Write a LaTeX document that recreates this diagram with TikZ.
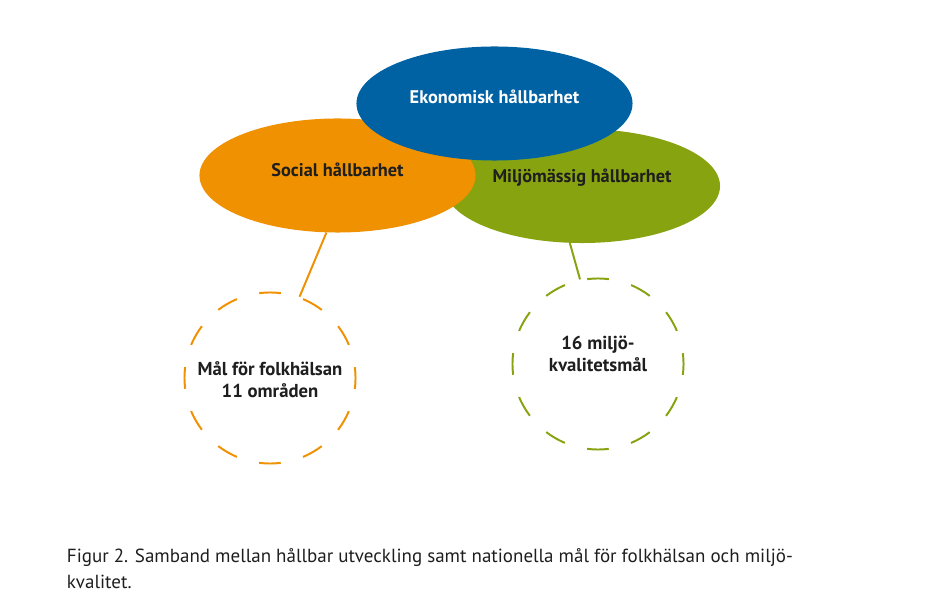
\documentclass[tikz,border=0pt]{standalone}
\usepackage{fontspec}
\setmainfont{PT Sans}
\usepackage{xcolor}
\usetikzlibrary{shapes.geometric}
\definecolor{socorange}{RGB}{239,145,0}
\definecolor{ekoblue}{RGB}{0,98,163}
\definecolor{miljogreen}{RGB}{135,164,16}
\definecolor{inkgray}{RGB}{30,30,30}

\begin{document}
\begin{tikzpicture}[x=0.025cm, y=-0.025cm,
        blob/.style={ellipse, minimum width=6.9cm, minimum height=2.85cm, inner sep=0pt},
        lbl/.style={text=inkgray, font=\bfseries\fontsize{13}{15}\selectfont},
        goal/.style={circle, minimum size=4.275cm, inner sep=0pt, line width=1.4pt,
                   dash pattern=on 15.4pt off 16.44pt, dash phase=7.7pt},
        goaltext/.style={align=center, text=inkgray, font=\bfseries\fontsize{13.3}{15.6}\selectfont},
        link/.style={line width=1.4pt}
    ]
        \useasboundingbox (0,0) rectangle (928,609);

        \node[blob, fill=miljogreen, label={[lbl, yshift=5.7pt]center:Miljömässig hållbarhet}] (miljo) at (582,186) {};
        \node[blob, fill=socorange, label={[lbl, yshift=4pt]center:Social hållbarhet}] (social) at (337.5,175.5) {};
        \node[blob, fill=ekoblue, label={[lbl, text=white, yshift=4.6pt]center:Ekonomisk hållbarhet}] (eko) at (494.5,103.5) {};

        \node[goal, draw=socorange, label={[goaltext, yshift=-1.5pt]center:Mål för folkhälsan\\11 områden}] (folk) at (270,378) {};
        \node[goal, draw=miljogreen, label={[goaltext, yshift=7.5pt]center:16 miljö-\\kvalitetsmål}] (kval) at (598,364) {};

        \draw[link, socorange] (social.259) -- (folk.70);
        \draw[link, miljogreen] (miljo.258) -- (kval.102);

        \node[anchor=base west, align=left, text=inkgray,
              font=\fontsize{13.5}{17.8}\selectfont] (caption) at (62,588)
              {Figur 2. Samband mellan hållbar utveckling samt nationella mål för folkhälsan och miljö-\\kvalitet.};
    \end{tikzpicture}
\end{document}
